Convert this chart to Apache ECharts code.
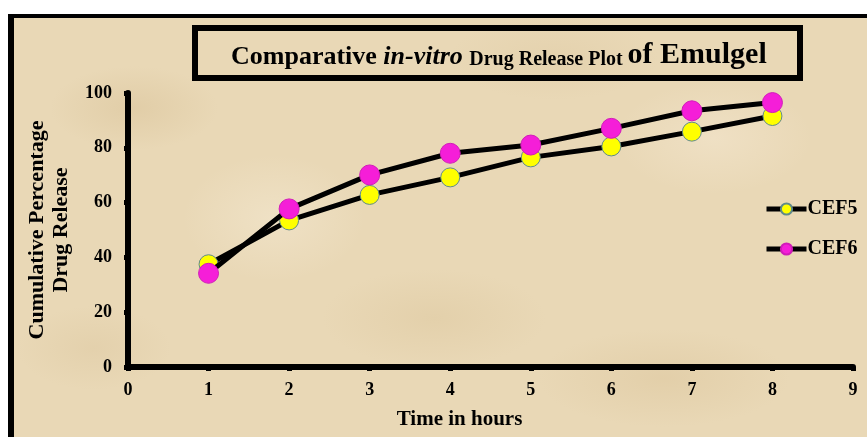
<!DOCTYPE html>
<html>
<head>
<meta charset="utf-8">
<script src="https://cdn.jsdelivr.net/npm/echarts@6/dist/echarts.min.js"></script>
<style>
  html, body { margin: 0; padding: 0; background: #ffffff; }
  #wrap { position: relative; width: 867px; height: 437px; overflow: hidden; }
  /* parchment panel with a black frame on its top and left edges */
  #paper {
    position: absolute; left: 8px; top: 14px; right: 0; bottom: 0;
    border-left: 6px solid #000; border-top: 4px solid #000;
    background-color: #e9d8b6;
    background-image:
      radial-gradient(ellipse 120px 60px at 120px 90px, rgba(210,185,140,0.35), rgba(210,185,140,0) 70%),
      radial-gradient(ellipse 160px 70px at 420px 300px, rgba(214,190,145,0.30), rgba(214,190,145,0) 70%),
      radial-gradient(ellipse 140px 80px at 700px 120px, rgba(245,232,210,0.50), rgba(245,232,210,0) 70%),
      radial-gradient(ellipse 180px 70px at 650px 360px, rgba(212,186,140,0.30), rgba(212,186,140,0) 70%),
      radial-gradient(ellipse 130px 90px at 260px 200px, rgba(245,234,212,0.50), rgba(245,234,212,0) 70%),
      radial-gradient(ellipse 110px 60px at 80px 330px, rgba(215,192,150,0.30), rgba(215,192,150,0) 70%),
      radial-gradient(ellipse 150px 60px at 540px 40px, rgba(218,196,155,0.30), rgba(218,196,155,0) 70%);
  }
  #chart { position: absolute; left: 0; top: 0; width: 867px; height: 437px; }
</style>
</head>
<body>
<div id="wrap">
  <div id="paper"></div>
  <div id="chart"></div>
</div>
<script>
// Time points (hours) and cumulative drug release (%) for each emulgel batch
const hours = [1, 2, 3, 4, 5, 6, 7, 8];
const cef5 = [37.5, 53.5, 62.8, 69.2, 76.5, 80.5, 85.9, 91.6];
const cef6 = [34.2, 57.7, 70.1, 78.0, 81.0, 87.1, 93.5, 96.5];
const seriesNames = ['CEF5', 'CEF6'];

const serif = "'Liberation Serif', 'Times New Roman', serif";
const pairs = vals => hours.map((h, i) => [h, vals[i]]);

const chart = echarts.init(document.getElementById('chart'), null, { renderer: 'canvas' });

const axisCommon = {
  axisLine: { show: true, lineStyle: { color: '#000', width: 6 } },
  axisTick: { show: true, length: 4, lineStyle: { color: '#000', width: 5 } },
  splitLine: { show: false },
  axisLabel: { color: '#000', fontFamily: serif, fontWeight: 'bold', fontSize: 18 },
  nameTextStyle: { color: '#000', fontFamily: serif, fontWeight: 'bold' }
};

chart.setOption({
  backgroundColor: 'transparent',
  animation: false,
  title: {
    left: 226, top: 32,
    text: '{a|Comparative }{b|in-vitro }{c|Drug Release Plot }{d|of Emulgel}',
    textStyle: {
      rich: {
        a: { fontFamily: serif, fontWeight: 'bold', fontSize: 26, lineHeight: 30, verticalAlign: 'bottom', color: '#000' },
        b: { fontFamily: serif, fontWeight: 'bold', fontStyle: 'italic', fontSize: 26, lineHeight: 30, verticalAlign: 'bottom', color: '#000' },
        c: { fontFamily: serif, fontWeight: 'bold', fontSize: 20, lineHeight: 25, verticalAlign: 'bottom', color: '#000' },
        d: { fontFamily: serif, fontWeight: 'bold', fontSize: 30, lineHeight: 33, verticalAlign: 'bottom', color: '#000' }
      }
    }
  },
  graphic: [
    {
      type: 'rect', z: 0,
      shape: { x: 195, y: 28, width: 605, height: 50 },
      style: { fill: 'transparent', stroke: '#000', lineWidth: 6 }
    }
  ],
  legend: {
    orient: 'vertical',
    left: 764, top: 199,
    padding: 0,
    itemWidth: 40, itemHeight: 14, itemGap: 20,
    data: seriesNames,
    lineStyle: { width: 5, color: '#000' },
    textStyle: { color: '#000', fontFamily: serif, fontWeight: 'bold', fontSize: 20, padding: [0, 0, 0, -4] }
  },
  grid: { left: 128, right: 14, top: 93, bottom: 70, containLabel: false },
  xAxis: Object.assign({}, axisCommon, {
    type: 'value', min: 0, max: 9, interval: 1,
    name: 'Time in hours', nameLocation: 'middle', nameGap: 42,
    nameTextStyle: Object.assign({}, axisCommon.nameTextStyle, { fontSize: 21, padding: [0, 62, 0, 0] }),
    axisLabel: Object.assign({}, axisCommon.axisLabel, { margin: 14 })
  }),
  yAxis: Object.assign({}, axisCommon, {
    type: 'value', min: 0, max: 100, interval: 20,
    name: 'Cumulative Percentage\nDrug Release', nameLocation: 'middle', nameGap: 55,
    nameTextStyle: Object.assign({}, axisCommon.nameTextStyle, { fontSize: 22, lineHeight: 24 }),
    axisLabel: Object.assign({}, axisCommon.axisLabel, { margin: 16 })
  }),
  series: [
    {
      name: seriesNames[0], type: 'line', data: pairs(cef5),
      symbol: 'circle', symbolSize: 19, z: 3,
      lineStyle: { color: '#000', width: 5 },
      itemStyle: { color: '#ffff00', borderColor: '#5f8a8a', borderWidth: 1 }
    },
    {
      name: seriesNames[1], type: 'line', data: pairs(cef6),
      symbol: 'circle', symbolSize: 20, z: 4,
      lineStyle: { color: '#000', width: 5 },
      itemStyle: { color: '#f51ed8', borderColor: '#d01cb8', borderWidth: 1 }
    }
  ]
});
</script>
</body>
</html>
